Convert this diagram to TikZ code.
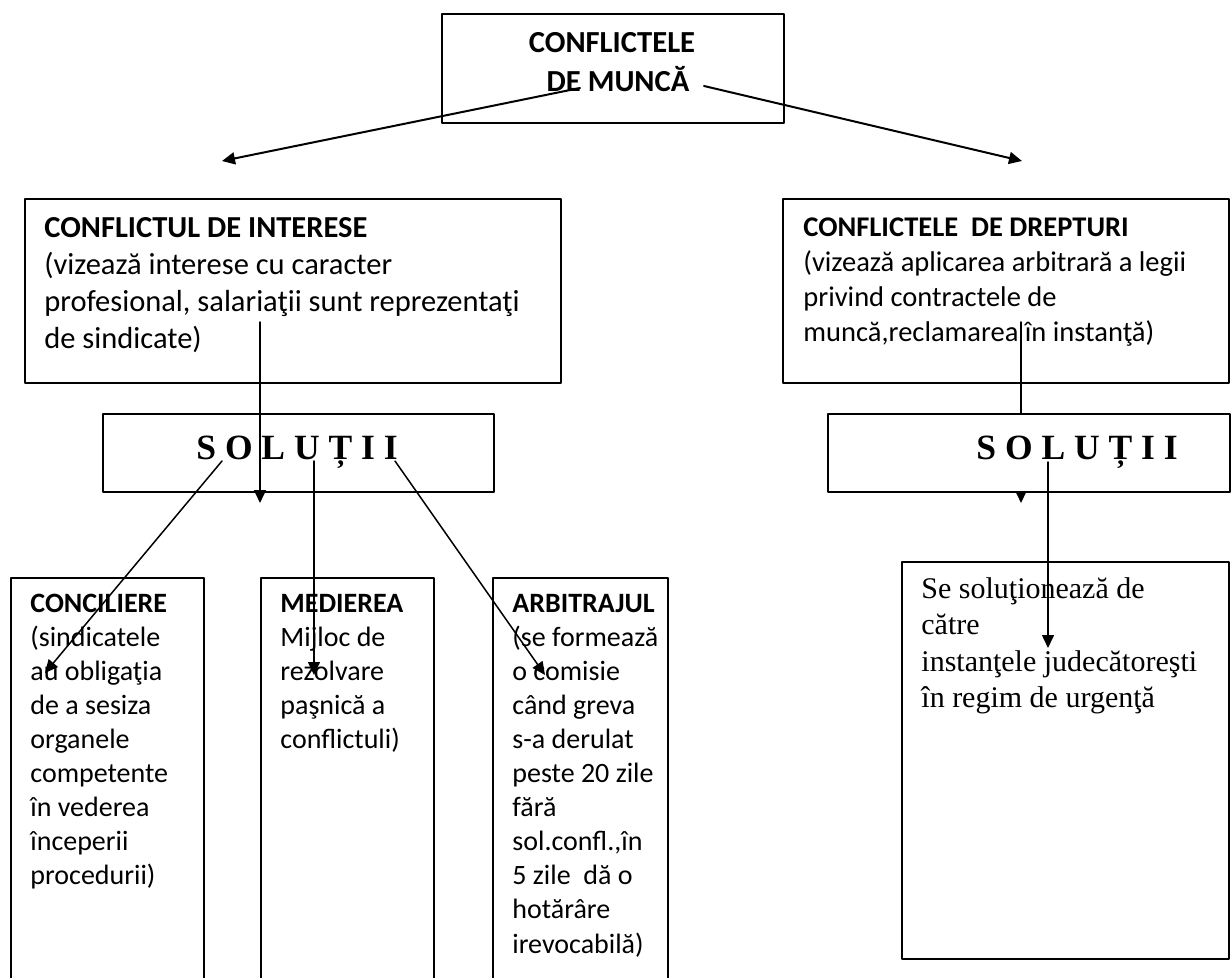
\documentclass[tikz,border=0pt]{standalone}
\usepackage{fontspec}
\setmainfont{Carlito}
\newfontfamily\timesfont{Liberation Serif}
\usetikzlibrary{arrows.meta}

\begin{document}
\begin{tikzpicture}[line cap=round,line join=round,>={Triangle[length=6.5pt,width=6pt]},x=0.5pt,y=-0.5pt,
	box/.style={draw,line width=1pt,anchor=north west,inner sep=0pt},
	txt/.style={anchor=base west,inner sep=0pt},
	soltxt/.style={anchor=base,inner sep=0pt,font=\timesfont\fontsize{17.75pt}{20pt}\selectfont\bfseries},
	conn/.style={->,line width=0.75pt}]
		\useasboundingbox (0,0) rectangle (1231,978);
		\clip (0,0) rectangle (1231,978);
		% top
		\node[box,minimum width=171pt,minimum height=54.5pt] (munca) at (441,13) {};
		\node[anchor=base,inner sep=0pt] (muncatxt) at (612,53) {\parbox[t]{150pt}{\centering\fontsize{15.3pt}{19.5pt}\selectfont\bfseries CONFLICTELE\\ \hspace*{6pt}DE MUNCĂ}};
		\coordinate (m1) at (580,88);
		\coordinate (m2) at (704,86);
		\coordinate (t1) at (222,161);
		\coordinate (t2) at (1022,161);
		\draw[conn,line width=1pt] (m1) -- (t1);
		\draw[conn,line width=1pt] (m2) -- (t2);
		% left branch
		\node[box,minimum width=268pt,minimum height=92pt] (interese) at (24,198) {};
		\node[txt] (coninteres) at (44,238) {\parbox[t]{260pt}{\fontsize{15.25pt}{18.35pt}\selectfont
			\textbf{CONFLICTUL DE INTERESE}\\
			(vizează interese cu caracter\\
			profesional, salariaţii sunt reprezentaţi\\
			de sindicate)}};
		\node[box,minimum width=195.5pt,minimum height=39pt] (solL) at (102,413) {};
		\node[soltxt] (solLtxt) at (297,459) {S O L U Ț I I};
		\coordinate (i1) at (260,322);
		\coordinate (s1) at (260,503);
		\draw[conn] (i1) -- (s1);
		\node[box,minimum width=96.5pt,minimum height=220pt] (concil) at (10,577) {};
		\node[box,minimum width=86.5pt,minimum height=220pt] (mediere) at (260,577) {};
		\node[box,minimum width=87.5pt,minimum height=220pt] (arbitraj) at (492,577) {};
		\node[txt] (conciltxt) at (30,612) {\parbox[t]{90pt}{\fontsize{14pt}{17.05pt}\selectfont
			\textbf{CONCILIERE}\\ (sindicatele\\ au obligaţia\\ de a sesiza\\ organele\\ competente\\ în vederea\\ începerii\\ procedurii)}};
		\node[txt] (medieretxt) at (280,612) {\parbox[t]{80pt}{\fontsize{14pt}{17.05pt}\selectfont
			\textbf{MEDIEREA}\\ Mijloc de\\ rezolvare\\ paşnică a\\ conflictuli)}};
		\node[txt] (arbitrajtxt) at (512,612) {\parbox[t]{80pt}{\fontsize{14pt}{17.05pt}\selectfont
			\textbf{ARBITRAJUL}\\ (se formează\\ o comisie\\ când greva\\ s-a derulat\\ peste 20 zile\\ fără\\ sol.confl.,în\\ 5 zile\ \ dă o\\ hotărâre\\ irevocabilă)}};
		\coordinate (l1) at (222,461);
		\coordinate (l2) at (314,461);
		\coordinate (l3) at (395,461);
		\coordinate (k1) at (45,673);
		\coordinate (k2) at (314,675);
		\coordinate (k3) at (545,675);
		\draw[conn] (l1) -- (k1);
		\draw[conn] (l2) -- (k2);
		\draw[conn] (l3) -- (k3);
		% right branch
		\node[box,minimum width=223pt,minimum height=92pt] (drepturi) at (782,198) {};
		\node[txt] (condrept) at (803,237) {\parbox[t]{220pt}{\fontsize{14.25pt}{17.5pt}\selectfont
			\textbf{CONFLICTELE\ \ DE DREPTURI}\\
			(vizează aplicarea arbitrară a legii\\
			privind contractele de\\
			muncă,reclamarea în instanţă)}};
		\coordinate (d1) at (1021,322);
		\coordinate (s2) at (1021,503);
		\draw[conn] (d1) -- (s2);
		\node[box,fill=white,minimum width=201pt,minimum height=39pt] (solR) at (827,413) {};
		\node[soltxt] (solRtxt) at (1077,459) {S O L U Ț I I};
		\node[box,minimum width=163.5pt,minimum height=198.5pt] (instante) at (901,561) {};
		\node[txt] (instantetxt) at (921,598) {\parbox[t]{160pt}{\timesfont\fontsize{15pt}{18.3pt}\selectfont
			Se soluţionează de\\ către\\ instanţele judecătoreşti\\ în regim de urgenţă}};
		\coordinate (r1) at (1048,462);
		\coordinate (r2) at (1048,648);
		\draw[conn] (r1) -- (r2);
	\end{tikzpicture}
\end{document}
